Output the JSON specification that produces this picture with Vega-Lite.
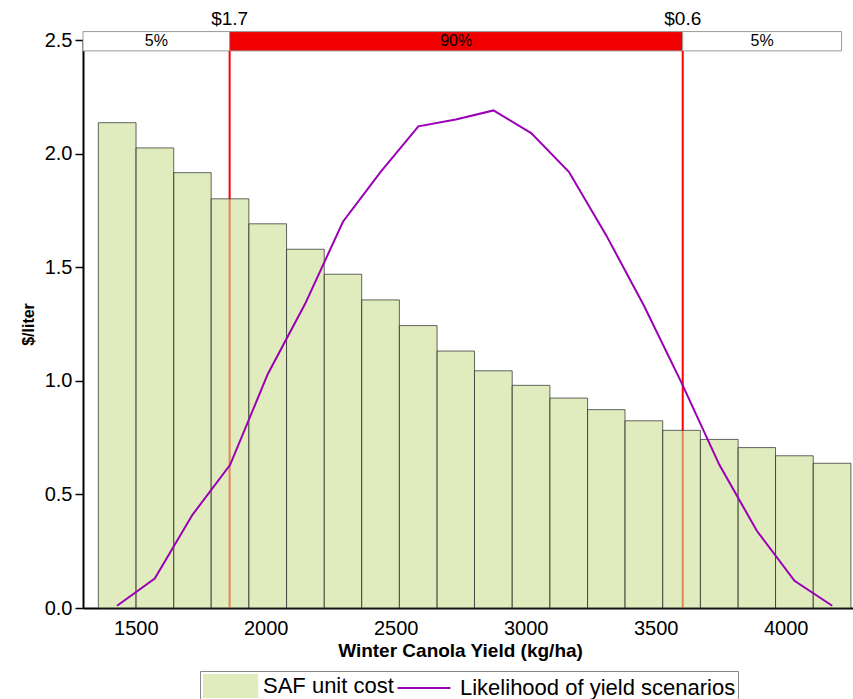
{
  "$schema": "https://vega.github.io/schema/vega-lite/v6.json",
  "width": 770,
  "height": 568,
  "autosize": {"type": "none"},
  "padding": {"left": 83, "top": 40, "right": 0, "bottom": 91},
  "background": "white",
  "config": {"view": {"stroke": null}, "font": "Liberation Sans"},
  "datasets": {
    "bars": [
      {"yield": 1356, "yield_hi": 1501, "cost": 2.136},
      {"yield": 1501, "yield_hi": 1646, "cost": 2.025},
      {"yield": 1646, "yield_hi": 1790, "cost": 1.916},
      {"yield": 1790, "yield_hi": 1935, "cost": 1.801},
      {"yield": 1935, "yield_hi": 2080, "cost": 1.691},
      {"yield": 2080, "yield_hi": 2225, "cost": 1.579},
      {"yield": 2225, "yield_hi": 2369, "cost": 1.469},
      {"yield": 2369, "yield_hi": 2514, "cost": 1.356},
      {"yield": 2514, "yield_hi": 2659, "cost": 1.243},
      {"yield": 2659, "yield_hi": 2803, "cost": 1.131},
      {"yield": 2803, "yield_hi": 2948, "cost": 1.044},
      {"yield": 2948, "yield_hi": 3093, "cost": 0.980},
      {"yield": 3093, "yield_hi": 3238, "cost": 0.924},
      {"yield": 3238, "yield_hi": 3382, "cost": 0.873},
      {"yield": 3382, "yield_hi": 3527, "cost": 0.824},
      {"yield": 3527, "yield_hi": 3672, "cost": 0.782},
      {"yield": 3672, "yield_hi": 3817, "cost": 0.742},
      {"yield": 3817, "yield_hi": 3961, "cost": 0.706},
      {"yield": 3961, "yield_hi": 4106, "cost": 0.670},
      {"yield": 4106, "yield_hi": 4251, "cost": 0.637}
    ],
    "curve": [
      {"yield": 1428, "cost": 0.01, "series": "Likelihood of yield scenarios"},
      {"yield": 1573, "cost": 0.13, "series": "Likelihood of yield scenarios"},
      {"yield": 1718, "cost": 0.41, "series": "Likelihood of yield scenarios"},
      {"yield": 1863, "cost": 0.63, "series": "Likelihood of yield scenarios"},
      {"yield": 2008, "cost": 1.03, "series": "Likelihood of yield scenarios"},
      {"yield": 2152, "cost": 1.34, "series": "Likelihood of yield scenarios"},
      {"yield": 2297, "cost": 1.70, "series": "Likelihood of yield scenarios"},
      {"yield": 2442, "cost": 1.92, "series": "Likelihood of yield scenarios"},
      {"yield": 2587, "cost": 2.12, "series": "Likelihood of yield scenarios"},
      {"yield": 2731, "cost": 2.15, "series": "Likelihood of yield scenarios"},
      {"yield": 2876, "cost": 2.19, "series": "Likelihood of yield scenarios"},
      {"yield": 3021, "cost": 2.09, "series": "Likelihood of yield scenarios"},
      {"yield": 3166, "cost": 1.92, "series": "Likelihood of yield scenarios"},
      {"yield": 3310, "cost": 1.64, "series": "Likelihood of yield scenarios"},
      {"yield": 3455, "cost": 1.33, "series": "Likelihood of yield scenarios"},
      {"yield": 3600, "cost": 0.99, "series": "Likelihood of yield scenarios"},
      {"yield": 3745, "cost": 0.63, "series": "Likelihood of yield scenarios"},
      {"yield": 3889, "cost": 0.34, "series": "Likelihood of yield scenarios"},
      {"yield": 4034, "cost": 0.12, "series": "Likelihood of yield scenarios"},
      {"yield": 4179, "cost": 0.01, "series": "Likelihood of yield scenarios"}
    ],
    "bounds": [
      {"yield": 1861, "label": "$1.7"},
      {"yield": 3604, "label": "$0.6"}
    ],
    "strip": [
      {"yield": 1297, "yield_hi": 1861, "label": "5%", "band": "tail"},
      {"yield": 1861, "yield_hi": 3604, "label": "90%", "band": "mid"},
      {"yield": 3604, "yield_hi": 4215, "label": "5%", "band": "tail"}
    ]
  },
  "layer": [
    {
      "data": {"name": "strip"},
      "mark": {"type": "rect", "stroke": "#999999", "strokeWidth": 1},
      "encoding": {
        "x": {"field": "yield", "type": "quantitative", "scale": {"domain": [1297, 4259], "nice": false, "zero": false}, "title": "Winter Canola Yield (kg/ha)"},
        "x2": {"field": "yield_hi"},
        "y": {"datum": 2.537, "type": "quantitative", "scale": {"domain": [0, 2.5], "nice": false}},
        "y2": {"datum": 2.452},
        "fill": {"field": "band", "type": "nominal", "scale": {"domain": ["tail", "mid"], "range": ["#ffffff", "#f00000"]}, "legend": null}
      }
    },
    {
      "data": {"name": "strip"},
      "transform": [{"calculate": "(datum.yield + datum.yield_hi) / 2", "as": "mid"}],
      "mark": {"type": "text", "fontSize": 16, "color": "#000000", "baseline": "middle", "align": "center"},
      "encoding": {
        "x": {"field": "mid", "type": "quantitative", "scale": {"domain": [1297, 4259], "nice": false, "zero": false}, "title": "Winter Canola Yield (kg/ha)"},
        "y": {"datum": 2.495, "type": "quantitative"},
        "text": {"field": "label"}
      }
    },
    {
      "data": {"name": "bounds"},
      "mark": {"type": "rule", "color": "#ff0000", "strokeWidth": 2},
      "encoding": {
        "x": {"field": "yield", "type": "quantitative", "scale": {"domain": [1297, 4259], "nice": false, "zero": false}, "title": "Winter Canola Yield (kg/ha)"},
        "y": {"datum": 0, "type": "quantitative"},
        "y2": {"datum": 2.452}
      }
    },
    {
      "data": {"name": "bounds"},
      "mark": {"type": "text", "fontSize": 19, "color": "#000000", "baseline": "middle", "align": "center"},
      "encoding": {
        "x": {"field": "yield", "type": "quantitative", "scale": {"domain": [1297, 4259], "nice": false, "zero": false}, "title": "Winter Canola Yield (kg/ha)"},
        "y": {"datum": 2.592, "type": "quantitative"},
        "text": {"field": "label"}
      }
    },
    {
      "data": {"name": "bars"},
      "mark": {"type": "bar", "fill": "#cddf93", "fillOpacity": 0.6, "stroke": "#333333", "strokeOpacity": 0.75, "strokeWidth": 1},
      "encoding": {
        "x": {
          "field": "yield", "type": "quantitative",
          "scale": {"domain": [1297, 4259], "nice": false, "zero": false},
          "title": "Winter Canola Yield (kg/ha)",
          "axis": {
            "values": [1500, 2000, 2500, 3000, 3500, 4000], "format": "d",
            "ticks": false, "tickSize": 0, "grid": false,
            "labelFontSize": 20, "labelColor": "#000000", "labelPadding": 10,
            "domainColor": "#000000", "domainWidth": 2,
            "titleFontSize": 19, "titleFontWeight": "bold", "titleColor": "#000000", "titlePadding": 3, "titleX": 377
          }
        },
        "x2": {"field": "yield_hi"},
        "y": {
          "field": "cost", "type": "quantitative",
          "scale": {"domain": [0, 2.5], "nice": false},
          "title": "$/liter",
          "axis": {
            "values": [0, 0.5, 1, 1.5, 2, 2.5], "format": ".1f",
            "tickSize": 8, "tickColor": "#000000", "tickWidth": 1.5, "grid": false,
            "labelFontSize": 20, "labelColor": "#000000", "labelPadding": 3,
            "domainColor": "#000000", "domainWidth": 2,
            "titleFontSize": 16, "titleFontWeight": "bold", "titleColor": "#000000", "titlePadding": 8
          }
        },
        "y2": {"datum": 0}
      }
    },
    {
      "data": {"name": "curve"},
      "mark": {"type": "line", "strokeWidth": 2, "color": "#9a00b5"},
      "encoding": {
        "x": {"field": "yield", "type": "quantitative", "scale": {"domain": [1297, 4259], "nice": false, "zero": false}, "title": "Winter Canola Yield (kg/ha)"},
        "y": {"field": "cost", "type": "quantitative", "scale": {"domain": [0, 2.5], "nice": false}, "title": "$/liter"}
      }
    },
    {
      "data": {"name": "curve"},
      "mark": {"type": "point", "filled": true, "opacity": 0},
      "encoding": {
        "x": {"field": "yield", "type": "quantitative", "scale": {"domain": [1297, 4259], "nice": false, "zero": false}, "title": "Winter Canola Yield (kg/ha)"},
        "y": {"field": "cost", "type": "quantitative", "scale": {"domain": [0, 2.5], "nice": false}, "title": "$/liter"},
        "color": {
          "field": "series", "type": "nominal",
          "scale": {"domain": ["SAF unit cost", "Likelihood of yield scenarios"], "range": ["#e0ecbe", "#9a00b5"]},
          "legend": {
            "title": null, "orient": "none", "direction": "horizontal",
            "legendX": 117, "legendY": 631,
            "labelFontSize": 22, "labelColor": "#000000", "labelFont": "Liberation Sans", "labelLimit": 400,
            "strokeColor": "#888888", "fillColor": "#ffffff", "padding": 2,
            "columnPadding": 0, "labelOffset": 35,
            "symbolSize": 576, "symbolOpacity": 1
          }
        },
        "shape": {
          "field": "series", "type": "nominal",
          "scale": {"domain": ["SAF unit cost", "Likelihood of yield scenarios"], "range": ["M-1,-1H3.6V1H-1Z", "M-1.2,-0.085H3.2V0.085H-1.2Z"]},
          "legend": {
            "title": null, "orient": "none", "direction": "horizontal",
            "legendX": 117, "legendY": 631,
            "labelFontSize": 22, "labelColor": "#000000", "labelFont": "Liberation Sans", "labelLimit": 400,
            "strokeColor": "#888888", "fillColor": "#ffffff", "padding": 2,
            "columnPadding": 0, "labelOffset": 35,
            "symbolSize": 576, "symbolOpacity": 1
          }
        }
      }
    }
  ]
}
